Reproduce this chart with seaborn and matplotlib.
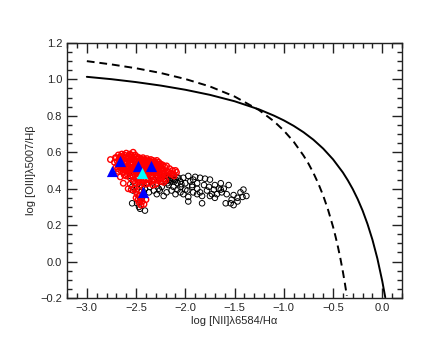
import matplotlib
matplotlib.use("Agg")
import matplotlib.pyplot as plt
from matplotlib.ticker import MultipleLocator
import seaborn as sns

# demarcation curves, values
solid_x = [-3.0, -2.75, -2.5, -2.25, -2.0, -1.75, -1.5, -1.25, -1.1, -1.0, -0.9, -0.8,
           -0.7, -0.6, -0.5, -0.4, -0.35, -0.3, -0.25, -0.2, -0.15, -0.1, -0.05, 0.0, 0.03]
solid_y = [1.014, 1.001, 0.985, 0.966, 0.943, 0.915, 0.880, 0.835, 0.801, 0.775, 0.745, 0.710,
           0.669, 0.620, 0.561, 0.489, 0.446, 0.398, 0.343, 0.280, 0.206, 0.120, 0.017, -0.108, -0.196]

dashed_x = [-3.0, -2.75, -2.5, -2.25, -2.0, -1.75, -1.5, -1.25, -1.1, -1.0, -0.9, -0.8,
            -0.75, -0.7, -0.65, -0.6, -0.55, -0.5, -0.475, -0.45, -0.425, -0.4, -0.38, -0.36]
dashed_y = [1.100, 1.082, 1.061, 1.035, 1.002, 0.961, 0.906, 0.831, 0.770, 0.719, 0.658, 0.582,
            0.538, 0.487, 0.429, 0.362, 0.283, 0.191, 0.138, 0.080, 0.016, -0.056, -0.119, -0.188]

# black open circles
black_x = [-1.97, -1.92, -1.85, -1.80, -1.75, -1.93, -1.88, -1.81, -1.76, -1.70, -1.64, -1.56,
           -1.66, -1.71, -1.78, -1.85, -1.92, -1.98, -2.02, -1.97, -1.88, -1.83, -1.73, -1.68,
           -1.63, -1.58, -1.51, -1.44, -1.41, -1.47, -1.42, -1.38, -1.53, -1.47, -1.59, -1.51,
           -1.54, -1.83, -1.97, -2.00, -2.05, -2.08, -2.12, -2.15, -2.19, -2.20, -2.17, -2.12,
           -2.08, -2.14, -2.19, -2.22, -2.29, -2.27, -2.24, -2.29, -2.32, -2.34, -2.37, -2.39,
           -2.36, -2.32, -2.37, -2.41, -2.44, -2.42, -2.47, -2.49, -2.53, -2.54, -2.53, -2.56,
           -2.54, -2.49, -2.46, -2.47, -2.46, -2.41, -2.44, -2.05, -2.02, -2.07, -2.12, -2.15,
           -2.25, -2.22, -2.29, -2.10, -2.05, -2.00, -1.61, -1.64, -1.70, -1.75, -1.93, -1.88,
           -2.13, -2.10, -2.16, -2.11, -2.04, -1.95, -1.90, -2.26, -2.09, -2.18]
black_y = [0.47, 0.45, 0.46, 0.455, 0.45, 0.42, 0.43, 0.42, 0.41, 0.42, 0.43, 0.42,
           0.40, 0.395, 0.39, 0.38, 0.38, 0.39, 0.37, 0.355, 0.37, 0.36, 0.37, 0.37,
           0.38, 0.37, 0.365, 0.38, 0.395, 0.35, 0.355, 0.36, 0.34, 0.33, 0.32, 0.31,
           0.32, 0.32, 0.33, 0.395, 0.41, 0.43, 0.45, 0.46, 0.47, 0.44, 0.42, 0.41,
           0.395, 0.39, 0.38, 0.36, 0.37, 0.40, 0.41, 0.43, 0.45, 0.47, 0.45, 0.43,
           0.41, 0.39, 0.38, 0.40, 0.41, 0.38, 0.36, 0.40, 0.39, 0.41, 0.44, 0.47,
           0.32, 0.32, 0.33, 0.30, 0.29, 0.28, 0.35, 0.44, 0.46, 0.46, 0.47, 0.44,
           0.46, 0.47, 0.47, 0.37, 0.38, 0.43, 0.40, 0.395, 0.35, 0.36, 0.41, 0.40,
           0.455, 0.45, 0.45, 0.44, 0.425, 0.44, 0.465, 0.39, 0.465, 0.43]

# red open circles
red_x = [-2.76, -2.71, -2.68, -2.66, -2.645, -2.62, -2.60, -2.58, -2.565, -2.55, -2.53, -2.51,
         -2.49, -2.47, -2.45, -2.43, -2.41, -2.39, -2.37, -2.35, -2.33, -2.31, -2.29, -2.27,
         -2.25, -2.23, -2.21, -2.19, -2.16, -2.13, -2.10, -2.09,
         -2.72, -2.69, -2.665, -2.64, -2.615, -2.59, -2.57, -2.545, -2.52, -2.495, -2.47, -2.44,
         -2.415, -2.385, -2.36, -2.335, -2.305, -2.28,
         -2.70, -2.675, -2.65, -2.63, -2.605, -2.58, -2.555, -2.53, -2.505, -2.48, -2.455, -2.43,
         -2.40, -2.375, -2.35, -2.32, -2.295, -2.27, -2.245, -2.22,
         -2.68, -2.655, -2.63, -2.61, -2.585, -2.56, -2.535, -2.51, -2.485, -2.46, -2.435, -2.41,
         -2.385, -2.36, -2.335, -2.31, -2.28, -2.255, -2.23,
         -2.66, -2.60, -2.56, -2.53, -2.50, -2.475, -2.45, -2.42, -2.395, -2.37, -2.34, -2.31,
         -2.28, -2.25, -2.22, -2.20,
         -2.63, -2.56, -2.51, -2.48, -2.46, -2.435, -2.40, -2.37, -2.33, -2.30,
         -2.58, -2.55, -2.52, -2.50, -2.47, -2.49, -2.46, -2.50, -2.48, -2.45, -2.47, -2.44,
         -2.42, -2.45, -2.40, -2.43,
         -2.70, -2.67, -2.64, -2.61, -2.58, -2.55, -2.52, -2.49, -2.46, -2.43, -2.40, -2.37,
         -2.34, -2.31, -2.28, -2.25, -2.68, -2.65, -2.62, -2.59, -2.56, -2.53, -2.50, -2.47,
         -2.44, -2.41, -2.38, -2.35, -2.32, -2.29, -2.26, -2.23, -2.64, -2.61, -2.58, -2.55,
         -2.52, -2.49, -2.46, -2.43, -2.40, -2.37, -2.34, -2.18, -2.15, -2.12, -2.25, -2.21,
         -2.685, -2.655, -2.625, -2.595, -2.565, -2.535, -2.505, -2.475, -2.445, -2.415,
         -2.385, -2.355, -2.325, -2.295, -2.265, -2.235, -2.205, -2.175, -2.145, -2.115,
         -2.62, -2.59, -2.54, -2.49, -2.44, -2.39, -2.35, -2.30, -2.26, -2.52, -2.47, -2.42]
red_y = [0.56, 0.57, 0.585, 0.575, 0.59, 0.585, 0.595, 0.58, 0.59, 0.575, 0.60, 0.585,
         0.575, 0.57, 0.565, 0.57, 0.56, 0.565, 0.555, 0.56, 0.555, 0.55, 0.555, 0.545,
         0.535, 0.53, 0.52, 0.525, 0.51, 0.50, 0.50, 0.49,
         0.545, 0.55, 0.555, 0.56, 0.555, 0.565, 0.555, 0.56, 0.555, 0.55, 0.545, 0.55,
         0.54, 0.545, 0.54, 0.535, 0.53, 0.525,
         0.52, 0.525, 0.53, 0.52, 0.535, 0.525, 0.53, 0.52, 0.525, 0.515, 0.52, 0.515,
         0.525, 0.51, 0.515, 0.505, 0.51, 0.50, 0.51, 0.495,
         0.495, 0.50, 0.49, 0.50, 0.495, 0.50, 0.49, 0.495, 0.49, 0.485, 0.49, 0.48,
         0.49, 0.485, 0.475, 0.485, 0.475, 0.48, 0.47,
         0.465, 0.47, 0.46, 0.465, 0.455, 0.46, 0.45, 0.46, 0.45, 0.455, 0.445, 0.45,
         0.445, 0.44, 0.435, 0.445,
         0.43, 0.425, 0.43, 0.435, 0.42, 0.43, 0.425, 0.43, 0.42, 0.425,
         0.40, 0.395, 0.40, 0.385, 0.39, 0.37, 0.36, 0.35, 0.34, 0.345, 0.325, 0.33,
         0.315, 0.31, 0.34, 0.365,
         0.57, 0.565, 0.575, 0.57, 0.57, 0.585, 0.575, 0.565, 0.555, 0.555, 0.55, 0.545,
         0.545, 0.54, 0.535, 0.525, 0.535, 0.54, 0.54, 0.545, 0.54, 0.54, 0.535, 0.53,
         0.53, 0.53, 0.53, 0.525, 0.52, 0.52, 0.52, 0.51, 0.51, 0.515, 0.51, 0.515,
         0.505, 0.51, 0.50, 0.505, 0.50, 0.50, 0.495, 0.495, 0.485, 0.48, 0.46, 0.455,
         0.51, 0.515, 0.505, 0.51, 0.515, 0.505, 0.51, 0.50, 0.505, 0.50,
         0.50, 0.495, 0.495, 0.49, 0.49, 0.485, 0.48, 0.49, 0.48, 0.47,
         0.475, 0.48, 0.475, 0.47, 0.47, 0.47, 0.465, 0.46, 0.455, 0.445, 0.44, 0.445]

# filled triangles
blue_x = [-2.746, -2.668, -2.481, -2.353, -2.431]
blue_y = [0.495, 0.550, 0.523, 0.523, 0.381]
cyan_x = [-2.441]
cyan_y = [0.486]

sns.set_style("white")
plt.rcParams['font.family'] = ['Liberation Sans', 'DejaVu Sans']

fig = plt.figure(figsize=(4.36, 3.49), dpi=100)
ax = fig.add_axes([0.154, 0.146, 0.768, 0.731])

sns.lineplot(x=solid_x, y=solid_y, color='black', linewidth=1.4, sort=False, ax=ax)
sns.lineplot(x=dashed_x, y=dashed_y, color='black', linewidth=1.4, sort=False, ax=ax)
ax.lines[-1].set_linestyle((0, (4, 2.5)))

sns.scatterplot(x=black_x, y=black_y, marker='o', s=16, facecolor='none',
                edgecolor='black', linewidth=0.7, ax=ax)
sns.scatterplot(x=red_x, y=red_y, marker='o', s=16, facecolor='none',
                edgecolor='red', linewidth=1.0, ax=ax)
sns.scatterplot(x=blue_x, y=blue_y, marker='^', s=65, color='blue',
                edgecolor='blue', linewidth=0, ax=ax)
sns.scatterplot(x=cyan_x, y=cyan_y, marker='^', s=65, color='cyan',
                edgecolor='cyan', linewidth=0, ax=ax)

ax.set_xlim(-3.2, 0.2)
ax.set_ylim(-0.2, 1.2)
ax.xaxis.set_major_locator(MultipleLocator(0.5))
ax.xaxis.set_minor_locator(MultipleLocator(0.1))
ax.yaxis.set_major_locator(MultipleLocator(0.2))
ax.yaxis.set_minor_locator(MultipleLocator(0.05))
ax.tick_params(which='both', direction='in', top=True, right=True, bottom=True, left=True,
               labelsize=8, color='#222222', width=1.0)
ax.tick_params(which='major', length=7)
ax.tick_params(which='minor', length=3.5)
for sp in ax.spines.values():
    sp.set_visible(True)
    sp.set_linewidth(1.0)
    sp.set_color('#222222')

ax.set_xlabel('log [NII]λ6584/Hα', fontsize=8, labelpad=2)
ax.set_ylabel('log [OIII]λ5007/Hβ', fontsize=8, labelpad=3)

fig.savefig('out.png', dpi=100)
